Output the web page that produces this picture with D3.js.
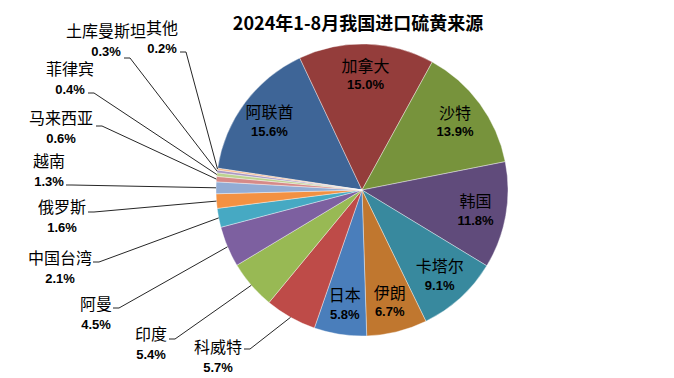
<!DOCTYPE html>
<html>
<head>
<meta charset="utf-8">
<script src="https://cdn.jsdelivr.net/npm/d3@7"></script>
<style>
  html, body { margin: 0; padding: 0; background: #fff; }
  svg { display: block; }
</style>
</head>
<body>
<svg id="chart" width="674" height="378"></svg>
<script>
// ---- data ----
const title = "2024年1-8月我国进口硫黄来源";
const categories = ["阿联酋","加拿大","沙特","韩国","卡塔尔","伊朗","日本","科威特","印度","阿曼","中国台湾","俄罗斯","越南","马来西亚","菲律宾","土库曼斯坦","其他"];
const values = [15.6, 15.0, 13.9, 11.8, 9.1, 6.7, 5.8, 5.7, 5.4, 4.5, 2.1, 1.6, 1.3, 0.6, 0.4, 0.3, 0.2];
const colors = ["#3E6597","#943D3B","#77933C","#604B7B","#38899E","#C0772F","#4A7EBB","#BE4B48","#98B954","#7D60A0","#46A9C3","#F39142","#92ACD4","#D68A88","#BCD290","#AA97C3","#F5B88A"];
const insideLabels = ["阿联酋","加拿大","沙特","韩国","卡塔尔","伊朗","日本"];

// layout for outside labels: label center x, name y, leader start point
const outerLayout = {
  "科威特":   {cx: 218, ny: 346, lx: 244, ly: 349},
  "印度":     {cx: 151, ny: 333, lx: 169, ly: 339},
  "阿曼":     {cx: 96,  ny: 303, lx: 113, ly: 308},
  "中国台湾": {cx: 60,  ny: 257, lx: 93,  ly: 262},
  "俄罗斯":   {cx: 62,  ny: 206, lx: 88,  ly: 212},
  "越南":     {cx: 49,  ny: 160, lx: 66,  ly: 185},
  "马来西亚": {cx: 61,  ny: 117, lx: 96,  ly: 126},
  "菲律宾":   {cx: 70,  ny: 68,  lx: 88,  ly: 93},
  "土库曼斯坦": {cx: 106, ny: 30, lx: 124, ly: 58},
  "其他":     {cx: 162, ny: 27,  lx: 180, ly: 52}
};

// ---- chart ----
const svg = d3.select("#chart");
const cx = 362, cy = 190, R = 146;
const start = -81.4 * Math.PI / 180;

const data = categories.map((c, i) => ({name: c, value: values[i], color: colors[i]}));
const pie = d3.pie().sort(null).value(d => d.value).startAngle(start).endAngle(start + 2 * Math.PI);
const arcs = pie(data);
const arc = d3.arc().innerRadius(0).outerRadius(R);
const labelArc = d3.arc().innerRadius(0).outerRadius(R);

const fmt = v => v.toFixed(1) + "%";
const cjk = "'Noto Sans CJK SC', 'Noto Sans', sans-serif";
const num = "'Liberation Sans', Arial, sans-serif";

svg.append("text")
  .attr("x", 358).attr("y", 22)
  .attr("text-anchor", "middle").attr("dominant-baseline", "central")
  .style("font-family", cjk).style("font-weight", "bold").style("font-size", "18px")
  .attr("fill", "#000").text(title);

const g = svg.append("g").attr("transform", `translate(${cx},${cy})`);
g.selectAll("path.slice").data(arcs).enter().append("path")
  .attr("class", "slice")
  .attr("d", arc)
  .attr("fill", d => d.data.color)
  .attr("stroke", "rgba(255,255,255,0.55)")
  .attr("stroke-width", 0.7);

// inside labels
arcs.filter(a => insideLabels.includes(a.data.name)).forEach(a => {
  const mid = (a.startAngle + a.endAngle) / 2;
  const rr = 0.79 * R;
  const x = cx + rr * Math.sin(mid);
  const y = cy - rr * Math.cos(mid);
  svg.append("text").attr("x", x).attr("y", y - 10)
    .attr("text-anchor", "middle").attr("dominant-baseline", "central")
    .style("font-family", cjk).style("font-size", "16px").attr("fill", "#000")
    .text(a.data.name);
  svg.append("text").attr("x", x).attr("y", y + 10)
    .attr("text-anchor", "middle").attr("dominant-baseline", "central")
    .style("font-family", num).style("font-weight", "bold").style("font-size", "13px").attr("fill", "#000")
    .text(fmt(a.data.value));
});

// outside labels with leader lines
arcs.filter(a => outerLayout[a.data.name]).forEach(a => {
  const L = outerLayout[a.data.name];
  const mid = (a.startAngle + a.endAngle) / 2;
  const ex = cx + R * Math.sin(mid);
  const ey = cy - R * Math.cos(mid);
  const line = d3.line();
  svg.append("path")
    .attr("d", line([[L.lx, L.ly], [L.lx + 6, L.ly], [ex, ey]]))
    .attr("fill", "none").attr("stroke", "#262626").attr("stroke-width", 1);
  svg.append("text").attr("x", L.cx).attr("y", L.ny)
    .attr("text-anchor", "middle").attr("dominant-baseline", "central")
    .style("font-family", cjk).style("font-size", "16px").attr("fill", "#000")
    .text(a.data.name);
  svg.append("text").attr("x", L.cx).attr("y", L.ny + 21)
    .attr("text-anchor", "middle").attr("dominant-baseline", "central")
    .style("font-family", num).style("font-weight", "bold").style("font-size", "13px").attr("fill", "#000")
    .text(fmt(a.data.value));
});
</script>
</body>
</html>
